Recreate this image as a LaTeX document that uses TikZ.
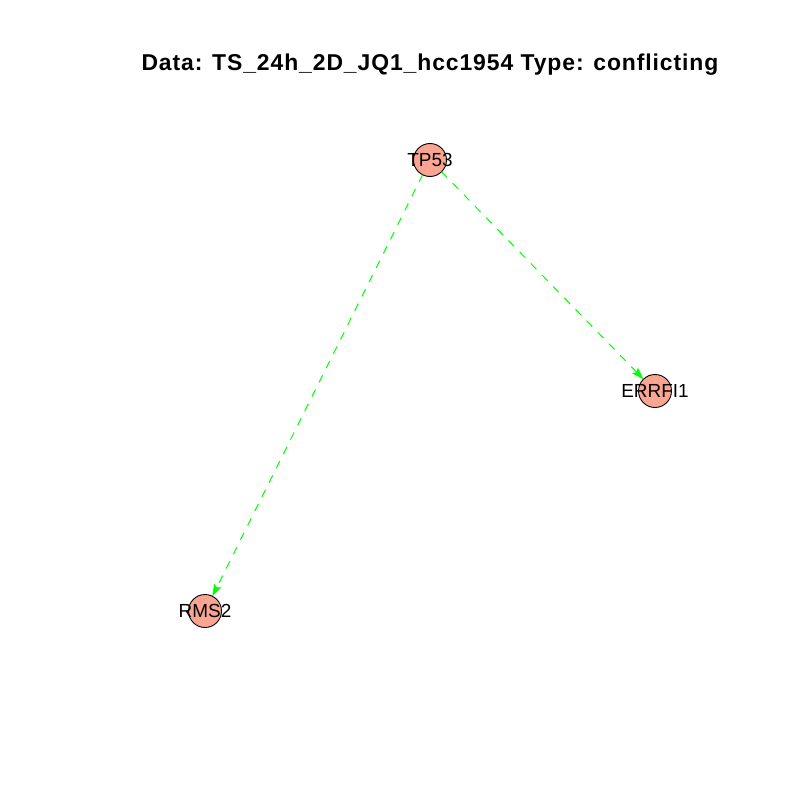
\documentclass[tikz,border=0pt]{standalone}
\usepackage{fontspec}
\setmainfont{Liberation Sans}
\usetikzlibrary{arrows.meta}
\definecolor{nodefill}{RGB}{250,164,146}
\definecolor{edgegreen}{RGB}{0,255,0}
\begin{document}
\begin{tikzpicture}[x=1bp,y=-1bp,
  gene/.style={circle,draw=black,line width=0.9bp,fill=nodefill,minimum size=33bp,inner sep=0pt,outer sep=0pt,
    label={[font=\fontsize{19}{19}\selectfont,text=black,inner sep=0pt]center:#1}},
  edge/.style={draw=edgegreen,line width=1bp,dash pattern=on 8bp off 8bp,-{Stealth[length=12bp,width=8bp,inset=2bp]}}]
\useasboundingbox (0,0) rectangle (800,800);
\fill[white] (0,0) rectangle (800,800);
\node[font=\bfseries\fontsize{23}{23}\selectfont\addfontfeature{LetterSpace=4},anchor=base,inner sep=0pt] (title) at (430,71) {Data: TS\_24h\_2D\_JQ1\_hcc1954 Type: conflicting};
\node[gene=TP53] (tp53) at (430,160) {};
\node[gene=ERRFI1] (errfi1) at (655,391) {};
\node[gene=RMS2] (rms2) at (205,611) {};
\draw[edge] (tp53) -- (errfi1);
\draw[edge] (tp53) -- (rms2);
\end{tikzpicture}
\end{document}
